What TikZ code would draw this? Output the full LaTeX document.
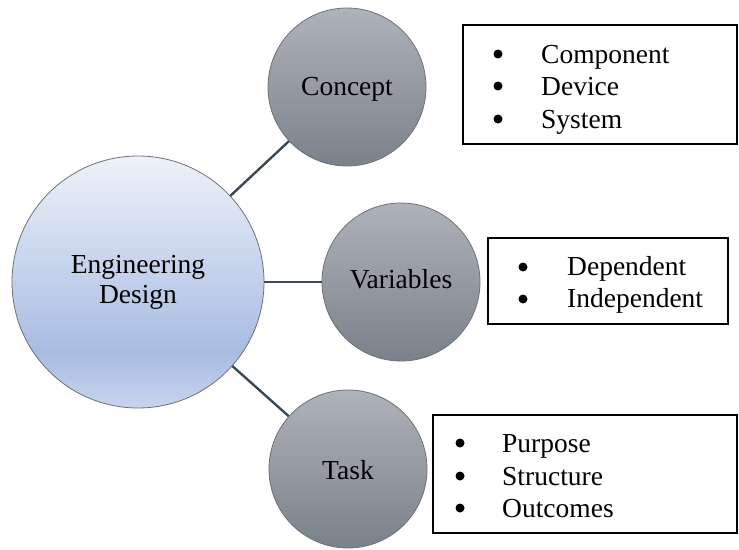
\documentclass[tikz,border=0pt]{standalone}
\usepackage{fontspec}
\setmainfont{Liberation Serif}
\begin{document}
\definecolor{hubtop}{HTML}{EEF1F9}
\definecolor{hubmid}{HTML}{A8BCE2}
\definecolor{hubbot}{HTML}{C8D4EC}
\definecolor{satop}{HTML}{AEB2BA}
\definecolor{sabot}{HTML}{7B818B}
\definecolor{rimgray}{HTML}{6E7278}
\definecolor{linkcol}{HTML}{3A4858}
\pgfdeclareverticalshading{hubshade}{100bp}{color(0bp)=(hubbot); color(25bp)=(hubbot); color(36bp)=(hubmid); color(75bp)=(hubtop); color(100bp)=(hubtop)}
\pgfdeclareverticalshading{satshade}{100bp}{color(0bp)=(sabot); color(25bp)=(sabot); color(75bp)=(satop); color(100bp)=(satop)}
\begin{tikzpicture}[x=1pt,y=-1pt,
  every node/.style={font=\fontsize{27.5}{30}\selectfont},
  hub/.style={circle, draw=rimgray, line width=0.8pt, shading=hubshade, minimum size=252pt, inner sep=0pt, align=center},
  sat/.style={circle, draw=rimgray, line width=0.8pt, shading=satshade, minimum size=158pt, inner sep=0pt},
  link/.style={draw=linkcol, line width=2.4pt},
  listbox/.style={draw=black, line width=1.8pt},
  item/.style={anchor=base west, inner sep=0pt},
  bulletdot/.style={circle, fill=black, minimum size=9pt, inner sep=0pt}]
\useasboundingbox (0,0) rectangle (739,549);

% central hub and its three branches
\node[hub] (hub) at (138,282) {Engineering\\[0pt]Design};
\node[sat] (concept) at (347,87) {};
\node[sat] (vars) at (401,282) {};
\node[sat] (task) at (348,469) {};
\node[item, anchor=base] (tconcept) at (347,95) {Concept};
\node[item, anchor=base] (tvars) at (401,288) {Variables};
\node[item, anchor=base] (ttask) at (348,479) {Task};

\draw[link] (hub) -- (concept);
\draw[link] (hub) -- (vars);
\draw[link] (hub) -- (task);

% list boxes
\draw[listbox] (463,25) rectangle (737,144);
\draw[listbox] (488,238) rectangle (728,324);
\draw[listbox] (433,415) rectangle (737,533);

% Concept list
\node[bulletdot] (c1) at (498,54) {};
\node[bulletdot] (c2) at (498,86) {};
\node[bulletdot] (c3) at (498,119) {};
\node[item] (lc1) at (541,63) {Component};
\node[item] (lc2) at (541,95.5) {Device};
\node[item] (lc3) at (541,128) {System};

% Variables list
\node[bulletdot] (v1) at (523,267) {};
\node[bulletdot] (v2) at (523,299) {};
\node[item] (lv1) at (567,275.5) {Dependent};
\node[item] (lv2) at (567,307.5) {Independent};

% Task list
\node[bulletdot] (k1) at (460,443) {};
\node[bulletdot] (k2) at (460,476) {};
\node[bulletdot] (k3) at (460,508) {};
\node[item] (lk1) at (502,452) {Purpose};
\node[item] (lk2) at (502,485) {Structure};
\node[item] (lk3) at (502,517) {Outcomes};
\end{tikzpicture}
\end{document}
